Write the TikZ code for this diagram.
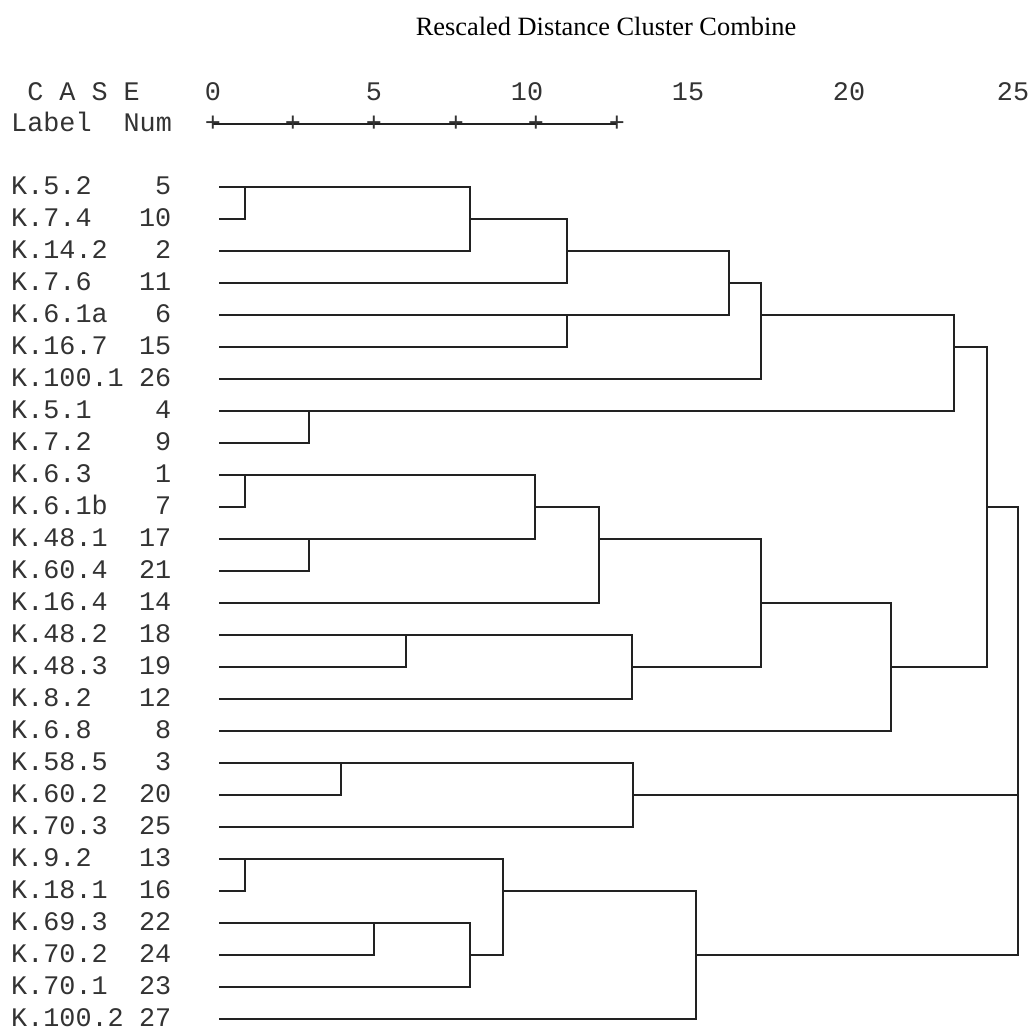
\documentclass[tikz,border=0pt]{standalone}
\usepackage{fontspec}
\newfontfamily\monof{Liberation Mono}
\newfontfamily\seriff{Liberation Serif}
\definecolor{lineclr}{HTML}{222222}
\definecolor{txtclr}{HTML}{333333}
\newcommand\jn[5]{\coordinate (#1) at (#2,0 |- s#5);}
\newcommand\jv[4]{\draw[dline] (#1 |- s#2) -- (#1 |- s#3); \draw[dline] (#1) -- (#4 |- #1);}
\begin{document}
\begin{tikzpicture}[x=1pt,y=-1pt,
  mono/.style={font=\monof\fontsize{26.8}{30}\selectfont, inner sep=0pt, text=txtclr},
  ttl/.style={font=\seriff\fontsize{26.4}{30}\selectfont, inner sep=0pt, text=black},
  dline/.style={draw=lineclr, line width=2pt, line cap=rect},
  axline/.style={draw=lineclr, line width=1.1pt}]
\useasboundingbox[fill=white] (0,0) rectangle (1028,1029);

% title and header
\node[ttl, anchor=base] (title) at (606,35) {Rescaled Distance Cluster Combine};
\node[mono, anchor=base west] (case) at (27.05,100) {C A S E};
\node[mono, anchor=base west] (lblh) at (11,131.7) {Label};
\node[mono, anchor=base west] (numh) at (123.4,131.7) {Num};
\node[mono, anchor=base] (t0) at (213,100) {0};
\node[mono, anchor=base] (t5) at (374,100) {5};
\node[mono, anchor=base] (t10) at (527,100) {10};
\node[mono, anchor=base] (t15) at (688,100) {15};
\node[mono, anchor=base] (t20) at (849,100) {20};
\node[mono, anchor=base] (t25) at (1013,100) {25};
\draw[axline] (213,124) -- (617,124);
\foreach \k/\px in {0/213,1/293,2/374,3/456,4/536,5/617}
  \node[mono] (p\k) at (\px,124) {+};

% rows
\foreach \i/\lab/\num in {0/K.5.2/5, 1/K.7.4/10, 2/K.14.2/2, 3/K.7.6/11, 4/K.6.1a/6,
  5/K.16.7/15, 6/K.100.1/26, 7/K.5.1/4, 8/K.7.2/9, 9/K.6.3/1, 10/K.6.1b/7,
  11/K.48.1/17, 12/K.60.4/21, 13/K.16.4/14, 14/K.48.2/18, 15/K.48.3/19,
  16/K.8.2/12, 17/K.6.8/8, 18/K.58.5/3, 19/K.60.2/20, 20/K.70.3/25,
  21/K.9.2/13, 22/K.18.1/16, 23/K.69.3/22, 24/K.70.2/24, 25/K.70.1/23,
  26/K.100.2/27} {
  \pgfmathsetmacro\yy{187.3+32*\i}
  \pgfmathsetmacro\yb{\yy+7.0}
  \node[mono, anchor=base west] (lab\i) at (11,\yb) {\lab};
  \node[mono, anchor=base east] (num\i) at (171.5,\yb) {\num};
  \coordinate (s\i) at (220,\yy);
}

% junction coordinates: name, x, top, bottom, output row
\jn{ja}{245}{0}{1}{0}
\jn{jb}{470}{0}{2}{1}
\jn{jc}{567}{1}{3}{2}
\jn{jd}{567}{4}{5}{4}
\jn{je}{729}{2}{4}{3}
\jn{jf}{761}{3}{6}{4}
\jn{jg}{309}{7}{8}{7}
\jn{jh}{954}{4}{7}{5}
\jn{ji}{245}{9}{10}{9}
\jn{jj}{309}{11}{12}{11}
\jn{jk}{535}{9}{11}{10}
\jn{jl}{599}{10}{13}{11}
\jn{jm}{406}{14}{15}{14}
\jn{jmm}{632}{14}{16}{15}
\jn{jn}{761}{11}{15}{13}
\jn{jo}{891}{13}{17}{15}
\jn{jT}{987}{5}{15}{10}
\jn{jp}{341}{18}{19}{18}
\jn{jq}{633}{18}{20}{19}
\jn{jr}{245}{21}{22}{21}
\jn{js}{374}{23}{24}{23}
\jn{jt}{470}{23}{25}{24}
\jn{ju}{503}{21}{24}{22}
\jn{jw}{696}{22}{26}{24}
\jn{jF}{1018}{10}{24}{17}

% leaf lines
\foreach \i/\j in {0/ja,1/ja,2/jb,3/jc,4/jd,5/jd,6/jf,7/jg,8/jg,9/ji,10/ji,
  11/jj,12/jj,13/jl,14/jm,15/jm,16/jmm,17/jo,18/jp,19/jp,20/jq,21/jr,22/jr,
  23/js,24/js,25/jt,26/jw}
  \draw[dline] (s\i) -- (\j |- s\i);

% verticals and outputs: name, top, bottom, parent
\jv{ja}{0}{1}{jb}
\jv{jb}{0}{2}{jc}
\jv{jc}{1}{3}{je}
\jv{jd}{4}{5}{je}
\jv{je}{2}{4}{jf}
\jv{jf}{3}{6}{jh}
\jv{jg}{7}{8}{jh}
\jv{jh}{4}{7}{jT}
\jv{ji}{9}{10}{jk}
\jv{jj}{11}{12}{jk}
\jv{jk}{9}{11}{jl}
\jv{jl}{10}{13}{jn}
\jv{jm}{14}{15}{jmm}
\jv{jmm}{14}{16}{jn}
\jv{jn}{11}{15}{jo}
\jv{jo}{13}{17}{jT}
\jv{jT}{5}{15}{jF}
\jv{jp}{18}{19}{jq}
\jv{jq}{18}{20}{jF}
\jv{jr}{21}{22}{ju}
\jv{js}{23}{24}{jt}
\jv{jt}{23}{25}{ju}
\jv{ju}{21}{24}{jw}
\jv{jw}{22}{26}{jF}
\draw[dline] (jF |- s10) -- (jF |- s24);
\end{tikzpicture}
\end{document}
